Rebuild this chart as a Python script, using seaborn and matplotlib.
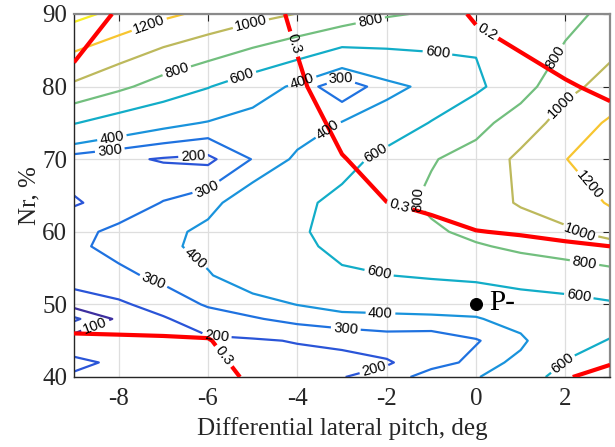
import numpy as np
import matplotlib
matplotlib.use("Agg")
import matplotlib.pyplot as plt
import seaborn as sns

# ---------------- data ----------------
pitch = [-9, -8, -7, -6, -5, -4, -3, -2, -1, 0, 1, 2, 3]
nr_rows = [40, 42, 45, 48, 50, 54, 58, 60, 64, 70, 75, 80, 90]

# main quantity, one list per Nr row (columns = pitch)
t40 = [185, 165, 150, 150, 160, 165, 197, 234, 358, 395, 450, 718, 780]
t42 = [225, 180, 155, 160, 170, 170, 180, 190, 252, 330, 440, 605, 700]
t45 = [130, 150, 165, 185, 190, 205, 215, 250, 240, 292, 370, 560, 605]
t48 = [40, 110, 191, 250, 290, 330, 366, 369, 375, 388, 460, 545, 560]
t50 = [120, 185, 237, 312, 353, 403, 437, 449, 459, 470, 525, 550, 580]
t54 = [272, 272, 330, 390, 478, 500, 575, 598, 620, 640, 670, 690, 740]
t58 = [275, 340, 370, 440, 500, 560, 645, 680, 720, 780, 838, 892, 940]
t60 = [270, 325, 365, 430, 495, 575, 665, 700, 767, 850, 895, 978, 1060]
t64 = [190, 238, 305, 360, 483, 550, 660, 720, 840, 900, 1020, 1072, 1220]
t70 = [250, 220, 191, 175, 305, 421, 520, 668, 785, 880, 1040, 1195, 1320]
t75 = [610, 509, 440, 391, 335, 340, 406, 469, 610, 730, 905, 1073, 1229]
t80 = [966, 842, 715, 609, 490, 368, 223, 360, 435, 567, 710, 954, 1060]
t90 = [1454, 1350, 1240, 1154, 1070, 995, 917, 820, 780, 650, 750, 710, 880]

# second quantity (red contours)
s_rows = [40, 45, 50, 60, 64, 70, 80, 90]
s40 = [0.25, 0.26, 0.27, 0.28, 0.308, 0.34, 0.35, 0.35, 0.35, 0.35, 0.33, 0.302, 0.29]
s45 = [0.29, 0.292, 0.294, 0.297, 0.33, 0.35, 0.35, 0.35, 0.35, 0.35, 0.34, 0.33, 0.32]
s50 = [0.34, 0.34, 0.34, 0.34, 0.35, 0.35, 0.34, 0.34, 0.34, 0.34, 0.34, 0.34, 0.34]
s60 = [0.38, 0.39, 0.40, 0.40, 0.40, 0.35, 0.33, 0.31, 0.3066, 0.3007, 0.298, 0.294, 0.29]
s64 = [0.38, 0.39, 0.40, 0.41, 0.41, 0.34, 0.32, 0.3003, 0.2952, 0.2866, 0.282, 0.276, 0.27]
s70 = [0.37, 0.38, 0.39, 0.40, 0.41, 0.33, 0.302, 0.284, 0.278, 0.2654, 0.258, 0.249, 0.24]
s80 = [0.32, 0.35, 0.36, 0.37, 0.35, 0.3077, 0.273, 0.257, 0.2496, 0.23, 0.219, 0.2045, 0.19]
s90 = [0.26, 0.307, 0.33, 0.34, 0.327, 0.2898, 0.25, 0.23, 0.221, 0.1947, 0.179, 0.16, 0.15]

t_label_levels = [100, 200, 300, 400, 600, 800, 1000, 1200]
t_plain_levels = [50, 1400]
s_levels = [0.2, 0.3]

point_x = [0]
point_y = [50]
point_name = "P-"

x_ticks = [-8, -6, -4, -2, 0, 2]
y_ticks = [40, 50, 60, 70, 80, 90]
x_label = "Differential lateral pitch, deg"
y_label = "Nr, %"

# label anchor positions (data coords)
t_label_pos = [(-7.3, 88.25), (-5.05, 88.9), (-6.67, 81.6), (-2.36, 88.9),
               (-5.24, 81.4), (-0.87, 84.35), (-8.15, 72.9), (-3.9, 80.9),
               (-3.26, 73.6), (-8.2, 71.3), (-3.0, 80.6), (-6.03, 66.0),
               (-7.3, 52.0), (-2.92, 46.2), (-6.33, 70.1), (-5.8, 46.0),
               (-2.29, 41.2), (-8.5, 46.7), (-6.25, 56.6), (-2.14, 48.5),
               (-2.25, 70.8), (-2.18, 54.05), (2.31, 51.5), (2.0, 41.4),
               (1.82, 83.9), (-1.36, 64.6), (2.42, 55.4), (2.0, 77.0),
               (2.31, 59.3), (2.42, 65.8)]
s_label_pos = [(-4.16, 85.7), (-1.73, 63.2), (-5.62, 43.0), (0.25, 87.6)]

# ---------------- styling ----------------
label_colors = ["#3d2fa0", "#2a55d8", "#1f72e0", "#1993dc",
                "#12adc8", "#72bf7e", "#bdb95c", "#f7c530"]
plain_colors = ["#3050c8", "#f6ee22"]

sns.set_theme(style="white")
plt.rcParams["font.family"] = ["Liberation Serif", "DejaVu Serif"]
plt.rcParams["axes.unicode_minus"] = False

fig = plt.figure(figsize=(6.15, 4.47), dpi=100)
ax = fig.add_axes([0.1203, 0.1566, 0.8716, 0.8121])

T = np.array([t40, t42, t45, t48, t50, t54, t58, t60, t64, t70, t75, t80, t90], dtype=float)
S = np.array([s40, s45, s50, s60, s64, s70, s80, s90], dtype=float)

ax.set_axisbelow(True)
ax.grid(True, color="#dedede", linewidth=0.9)

ax.contour(pitch, nr_rows, T, levels=t_plain_levels, colors=plain_colors,
           linewidths=1.6, zorder=2)
cs = ax.contour(pitch, nr_rows, T, levels=t_label_levels, colors=label_colors,
                linewidths=1.6, zorder=2)
labels_t = ax.clabel(cs, inline=True, fmt="%g", fontsize=10.5,
                     manual=t_label_pos, inline_spacing=4)
for lab in labels_t:
    lab.set_fontfamily(["Liberation Sans", "DejaVu Sans"])
    lab.set_color("black")

cs2 = ax.contour(pitch, s_rows, S, levels=s_levels, colors=["#ff0000"],
                 linewidths=3.0, zorder=3)
labels_s = ax.clabel(cs2, inline=True, fmt="%g", fontsize=10.5,
                     manual=s_label_pos, inline_spacing=4)
for lab in labels_s:
    lab.set_fontfamily(["Liberation Sans", "DejaVu Sans"])
    lab.set_color("black")

sns.scatterplot(x=point_x, y=point_y, color="black", s=75, ax=ax,
                zorder=5, legend=False, edgecolor="black")
ax.text(point_x[0] + 0.3, point_y[0] + 0.2, point_name, fontsize=21,
        va="center", ha="left", color="black", zorder=5)

ax.set_xlim(-9, 3)
ax.set_ylim(40, 90)
ax.set_xticks(x_ticks)
ax.set_yticks(y_ticks)
ax.tick_params(direction="in", top=True, right=True, length=5, width=0.8,
               labelsize=18, colors="#262626")
ax.tick_params(axis="x", pad=8)
ax.tick_params(axis="y", pad=5)
ax.set_xlabel(x_label, fontsize=18, color="#262626", labelpad=5)
ax.set_ylabel(y_label, fontsize=18, color="#262626", labelpad=1)

for side in ["left", "bottom"]:
    ax.spines[side].set_color("#262626")
    ax.spines[side].set_linewidth(1.0)
for side in ["top", "right"]:
    ax.spines[side].set_color("#8a8a8a")
    ax.spines[side].set_linewidth(1.6)

fig.savefig("out.png", dpi=100)
